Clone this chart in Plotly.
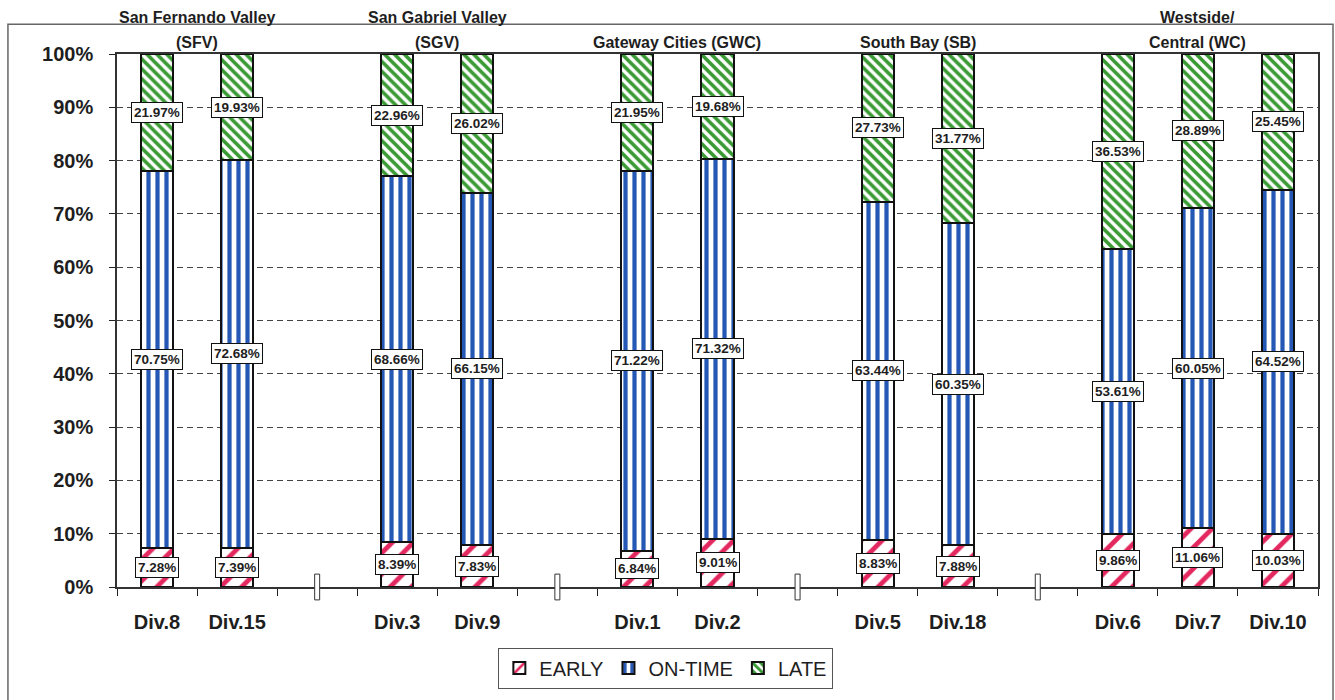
import plotly.graph_objects as go

# Regions (title lines) and the divisions belonging to each
region_titles = [
    ["San Fernando Valley", "(SFV)"],
    ["San Gabriel Valley", "(SGV)"],
    ["Gateway Cities (GWC)"],
    ["South Bay (SB)"],
    ["Westside/", "Central (WC)"],
]
region_divisions = [
    ["Div.8", "Div.15"],
    ["Div.3", "Div.9"],
    ["Div.1", "Div.2"],
    ["Div.5", "Div.18"],
    ["Div.6", "Div.7", "Div.10"],
]

# Share of trips per division (percent), in division order
divisions = ["Div.8", "Div.15", "Div.3", "Div.9", "Div.1", "Div.2",
             "Div.5", "Div.18", "Div.6", "Div.7", "Div.10"]
early = [7.28, 7.39, 8.39, 7.83, 6.84, 9.01, 8.83, 7.88, 9.86, 11.06, 10.03]
on_time = [70.75, 72.68, 68.66, 66.15, 71.22, 71.32, 63.44, 60.35, 53.61, 60.05, 64.52]
late = [21.97, 19.93, 22.96, 26.02, 21.95, 19.68, 27.73, 31.77, 36.53, 28.89, 25.45]

series_names = ["EARLY", "ON-TIME", "LATE"]

FONT = "Arial, 'Liberation Sans', sans-serif"
TXT = "#1e1e1e"

# Category axis: divisions with an empty slot between regions
categories = []
separators = []
for gi, divs in enumerate(region_divisions):
    categories.extend(divs)
    if gi < len(region_divisions) - 1:
        blank = " " * (gi + 1)
        separators.append(len(categories))
        categories.append(blank)
n_cat = len(categories)

styles = {
    "EARLY": dict(shape="/", fgcolor="#e3285f", size=15, solidity=0.32),
    "ON-TIME": dict(shape="|", fgcolor="#2458b4", size=9, solidity=0.47),
    "LATE": dict(shape="\\", fgcolor="#3a9a34", size=7, solidity=0.52),
}

fig = go.Figure()
for name, vals in zip(series_names, [early, on_time, late]):
    st = styles[name]
    fig.add_trace(go.Bar(
        name=name, x=divisions, y=vals, width=0.4,
        marker=dict(
            color="white",
            line=dict(color="#111111", width=2),
            pattern=dict(shape=st["shape"], fgcolor=st["fgcolor"], bgcolor="white",
                         size=st["size"], solidity=st["solidity"], fillmode="replace"),
        ),
        hoverinfo="x+y+name",
    ))

# Value labels at the middle of each segment
annotations = []
for i, d in enumerate(divisions):
    base = 0.0
    for vals in (early, on_time, late):
        v = vals[i]
        annotations.append(dict(
            x=d, y=base + v / 2, xref="x", yref="y", text=f"{v:.2f}%",
            showarrow=False, font=dict(family=FONT, size=13.5, color=TXT, weight="bold"),
            bgcolor="white", bordercolor="#111111", borderwidth=1, borderpad=2,
        ))
        base += v

# Region titles above the plot
for titles, divs in zip(region_titles, region_divisions):
    idx = [categories.index(d) for d in divs]
    cx = (idx[0] + idx[-1]) / 2
    ys = [1.069, 1.0225] if len(titles) == 2 else [1.0225]
    for t, yy in zip(titles, ys):
        annotations.append(dict(
            x=cx, y=yy, xref="x", yref="paper", text=t, showarrow=False,
            yanchor="middle", font=dict(family=FONT, size=16, color=TXT, weight="bold"),
        ))

shapes = []
# Axis break markers between regions
for s in separators:
    xc = (s + 0.5) / n_cat
    shapes.append(dict(type="rect", xref="paper", yref="paper",
                       x0=xc - 2.5 / 1201, x1=xc + 2.5 / 1201, y0=-0.0242, y1=0.0242,
                       line=dict(color="#333333", width=1), fillcolor="white", layer="above"))
# Outer chart frame
shapes.append(dict(type="rect", xref="paper", yref="paper",
                   x0=-0.0908, x1=1.0125, y0=-0.25, y1=1.0559,
                   line=dict(color="#666666", width=1.5), fillcolor="rgba(0,0,0,0)", layer="below"))

fig.update_layout(
    barmode="stack",
    width=1335, height=700,
    margin=dict(l=117, r=17, t=54, b=109),
    paper_bgcolor="white", plot_bgcolor="white",
    font=dict(family=FONT, color=TXT),
    showlegend=True,
    legend=dict(orientation="h", x=0.457, xanchor="center", y=-0.1136, yanchor="top",
                bordercolor="#555555", borderwidth=1, bgcolor="white",
                font=dict(family=FONT, size=20, color=TXT), traceorder="normal"),
    annotations=annotations,
    shapes=shapes,
    bargap=0.6,
)
fig.update_xaxes(
    type="category", categoryorder="array", categoryarray=categories,
    range=[-0.5, n_cat - 0.5],
    tickson="boundaries", ticks="outside", ticklen=7, tickcolor="#222222",
    showline=True, linecolor="#333333", linewidth=1.5, mirror=True,
    showgrid=False,
    tickfont=dict(family=FONT, size=20, color=TXT, weight="bold"),
    ticklabelstandoff=16,
)
fig.update_yaxes(
    range=[0, 100], dtick=10, ticksuffix="%",
    ticks="outside", ticklen=6, tickcolor="#222222",
    showline=True, linecolor="#333333", linewidth=1.5, mirror=True,
    showgrid=True, gridcolor="#444444", gridwidth=1, griddash="6px,4px",
    zeroline=False,
    tickfont=dict(family=FONT, size=20, color=TXT, weight="bold"),
    ticklabelstandoff=12,
)

fig.write_html("out.html")
